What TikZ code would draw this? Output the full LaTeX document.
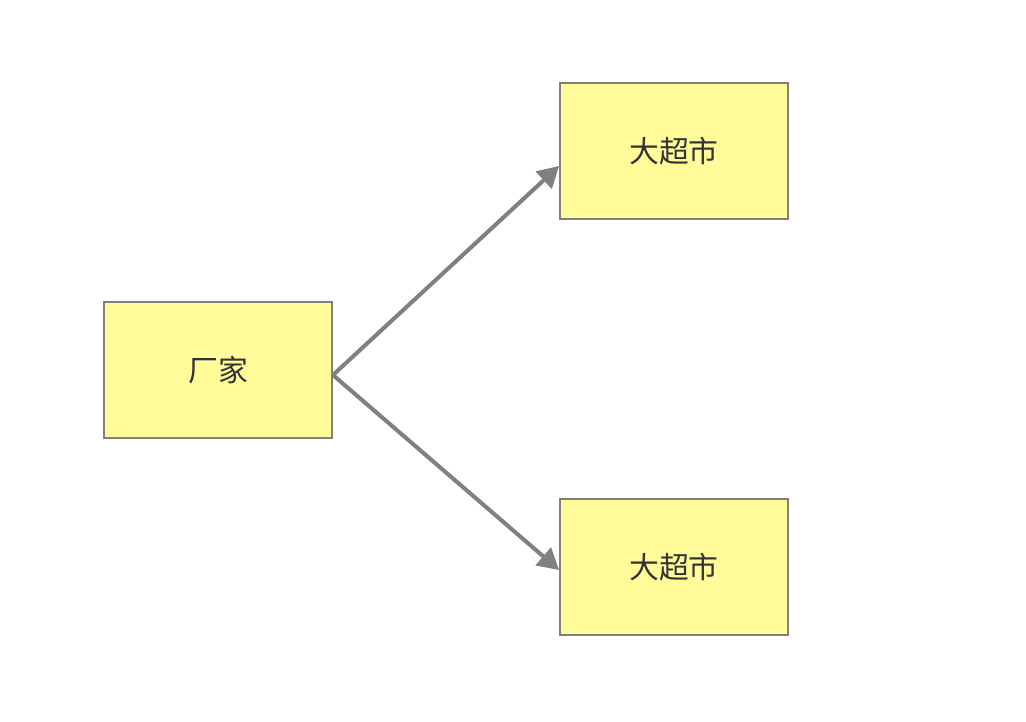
\documentclass[tikz,border=0pt]{standalone}
\usepackage{fontspec}
\newfontfamily\cjk{Noto Sans CJK SC}
\usepackage{xcolor}
\usetikzlibrary{positioning,arrows.meta,calc}
\definecolor{boxyellow}{HTML}{FFFC99}
\definecolor{lineg}{HTML}{808080}
\definecolor{txtg}{HTML}{333333}

\begin{document}
\begin{tikzpicture}[x=0.02cm, y=-0.02cm,
   box/.style={draw=lineg, line width=1.1pt, fill=boxyellow, minimum width=4.56cm,
               minimum height=2.72cm, text=txtg, font=\cjk\fontsize{17}{20}\selectfont},
   link/.style={draw=lineg, line width=2.3pt, -{Triangle[length=0.42cm,width=0.46cm]}}]
  \useasboundingbox (0,0) rectangle (1026,722);
  \node[box] (maker) at (218,370) {厂家};
  \node[box] (shopA) at (674,151) {大超市};
  \node[box] (shopB) at (674,567) {大超市};

  \draw[link] ($(maker.east)+(0,5)$) -- ($(shopA.west)+(0,15)$);
  \draw[link] ($(maker.east)+(0,5)$) -- ($(shopB.west)+(0,3)$);
\end{tikzpicture}
\end{document}
